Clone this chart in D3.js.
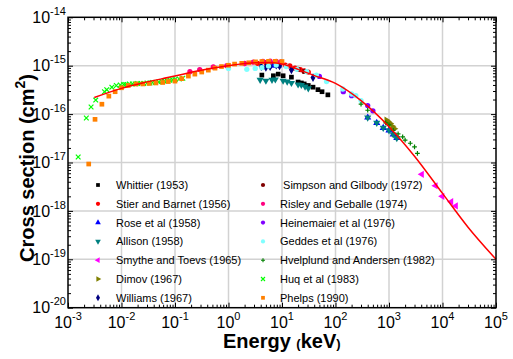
<!DOCTYPE html>
<html><head><meta charset="utf-8">
<script src="https://cdn.jsdelivr.net/npm/d3@7"></script>
<style>body{margin:0;background:#fff}svg{display:block}</style>
</head><body>
<svg id="chart" width="513" height="359"></svg>
<script>
// ---------- data (energy keV, cross section cm^2) ----------
const whittier = [[4.2,6.4e-16],[6.9,6.2e-16],[8.5,6.7e-16],[10.5,6.2e-16],[15,5.8e-16],[20,4.6e-16],[23,4.4e-16],[26,4.2e-16],[31,3.9e-16],[38,3.6e-16],[47,3.2e-16],[56,2.9e-16],[72,2.5e-16]];
const stier = [[3.5,1.12e-15],[5,1.15e-15],[7,1.13e-15],[9,1.1e-15],[11.5,1.03e-15],[14,9.9e-16],[17.5,8.9e-16],[22,8.3e-16],[26,7.8e-16],[31,7.4e-16]];
const rose = [[5.5,9.5e-16],[7,1.0e-15],[8.5,1.0e-15],[400,8.5e-17],[590,6.6e-17],[780,5.2e-17],[1000,4.6e-17],[1200,3.8e-17],[1400,3.2e-17]];
const allison = [[3.9,5.1e-16],[5,4.9e-16],[6.5,5.1e-16],[7.5,5.2e-16],[10.5,4.9e-16],[12.5,4.7e-16],[15,4.4e-16],[20,4.1e-16],[23,4.0e-16],[27,3.7e-16],[31,3.4e-16],[400,8.5e-17],[590,6.6e-17],[780,5.2e-17],[1000,4.6e-17],[1200,3.8e-17],[1400,3.2e-17]];
const smythe = [[4100,5.7e-18],[7400,3.3e-18],[9900,2.0e-18],[14500,1.55e-18],[17700,1.27e-18]];
const dimov = [[900,7.5e-17],[950,7.0e-17],[1050,6.4e-17],[1150,5.6e-17],[1250,5.0e-17]];
const williams = [[4.1,9.6e-16],[5,9.2e-16],[6,9.6e-16],[7.8,1.03e-15],[9,9.9e-16],[15,8.2e-16],[38,5.7e-16]];
const simpson = [[20,8.4e-16],[26,7.6e-16]];
const risley = [[0.19,7.5e-16],[0.29,8.3e-16],[0.52,9.4e-16],[0.93,1.0e-15],[2.0,1.11e-15],[2.9,1.18e-15],[4.4,1.23e-15],[6,1.24e-15],[7.8,1.22e-15],[9.5,1.2e-15]];
const heinemaier = [[50,6.0e-16],[140,2.9e-16],[200,2.4e-16],[400,1.5e-16],[500,1.17e-16]];
const geddes = [[1.0,8.8e-16],[2.2,8.4e-16],[3.16,8.8e-16],[4.2,9.1e-16],[5.6,9.8e-16],[7.8,1.03e-15],[12,9.6e-16],[19,8.4e-16],[29,7.5e-16],[44,6.4e-16],[68,4.7e-16],[137,3.3e-16],[200,2.6e-16],[240,2.4e-16],[300,1.9e-16]];
const hvelplund = [[300,1.6e-16],[400,1.2e-16],[870,6.6e-17],[1000,6.0e-17],[1200,4.6e-17],[1480,3.9e-17],[1800,3.4e-17],[2000,2.9e-17],[2500,2.5e-17],[3000,2.1e-17],[3400,1.55e-17]];
const huq = [[0.00155,1.3e-17],[0.0022,8.3e-17],[0.0027,1.4e-16],[0.0033,1.95e-16],[0.0048,2.9e-16],[0.0053,3.2e-16],[0.0066,3.6e-16],[0.008,3.9e-16],[0.0095,4.0e-16],[0.011,4.1e-16],[0.012,4.1e-16],[0.014,4.2e-16],[0.016,4.2e-16],[0.018,4.2e-16],[0.02,4.3e-16],[0.023,4.3e-16],[0.026,4.3e-16],[0.03,4.4e-16],[0.034,4.4e-16],[0.038,4.5e-16],[0.043,4.5e-16],[0.05,4.6e-16],[0.056,4.7e-16],[0.063,4.8e-16],[0.071,4.9e-16],[0.08,5.0e-16],[0.09,5.1e-16],[0.1,5.2e-16],[0.12,5.3e-16],[0.14,5.5e-16]];
const phelps = [[0.00244,9.3e-18],[0.0032,7.8e-17],[0.0043,1.6e-16],[0.0058,2.35e-16],[0.0076,2.9e-16],[0.01,3.5e-16],[0.0134,3.9e-16],[0.0187,4.2e-16],[0.025,4.2e-16],[0.033,4.3e-16],[0.044,4.4e-16],[0.059,4.5e-16],[0.075,4.7e-16],[0.1,4.8e-16],[0.133,5.4e-16],[0.178,6.1e-16],[0.235,6.7e-16],[0.316,7.4e-16],[0.42,8.1e-16],[0.56,8.9e-16],[0.74,9.6e-16],[1.0,1.02e-15],[1.3,1.08e-15],[1.77,1.12e-15],[2.4,1.15e-15],[3.2,1.2e-15],[4.2,1.22e-15],[5.6,1.23e-15],[7.5,1.23e-15],[10,1.22e-15]];
const fitCurve = [[0.0031,2.2e-16],[0.01,3.4e-16],[0.026,4.45e-16],[0.1,6.1e-16],[0.22,7.5e-16],[0.92,9.9e-16],[3.3,1.15e-15],[6,1.16e-15],[10,1.08e-15],[20,8.4e-16],[38,6.4e-16],[100,4.3e-16],[300,1.9e-16],[1000,5.5e-17],[3000,1.35e-17],[10000,2.3e-18],[30000,4.6e-19],[100000,1e-19]];

const seriesNames = ["Whittier (1953)","Stier and Barnet (1956)","Rose et al (1958)","Allison (1958)","Smythe and Toevs (1965)","Dimov (1967)","Williams (1967)"," Simpson and Gilbody (1972)","Risley and Geballe (1974)","Heinemaier et al (1976)","Geddes et al (1976)","Hvelplund and Andersen (1982)","Huq et al (1983)","Phelps (1990)"];
const seriesData = [whittier,stier,rose,allison,smythe,dimov,williams,simpson,risley,heinemaier,geddes,hvelplund,huq,phelps];
const xTickExps = [-3,-2,-1,0,1,2,3,4,5];
const yTickExps = [-20,-19,-18,-17,-16,-15,-14];

// ---------- styles ----------
const colors = ["#000000","#ff0000","#0000ff","#008080","#ff00ff","#808000","#000080","#800000","#ff0080","#8000ff","#80ffff","#008000","#00ff00","#ff8000"];
const xSym = {draw(c,s){const r=Math.sqrt(s)/2;c.moveTo(-r,-r);c.lineTo(r,r);c.moveTo(r,-r);c.lineTo(-r,r);}};
const plusSym = {draw(c,s){const r=Math.sqrt(s)/2;c.moveTo(-r,0);c.lineTo(r,0);c.moveTo(0,-r);c.lineTo(0,r);}};
// [type, rotation, stroked]
const shapes = [
  [d3.symbolSquare,0,false],[d3.symbolCircle,0,false],[d3.symbolTriangle,0,false],[d3.symbolTriangle,180,false],
  [d3.symbolTriangle,-90,false],[d3.symbolTriangle,90,false],[d3.symbolDiamond,0,false],[d3.symbolCircle,0,false],
  [d3.symbolCircle,0,false],[d3.symbolCircle,0,false],[d3.symbolCircle,0,false],[plusSym,0,true],[xSym,0,true],[d3.symbolSquare,0,false]];

const font = "Arial, 'Liberation Sans', sans-serif";
const L=68, R=496, T=17.3, B=307.7;
const svg = d3.select("#chart");
const x = d3.scaleLog().domain([1e-3,1e5]).range([L,R]);
const y = d3.scaleLog().domain([1e-20,1e-14]).range([B,T]);

// grid
const grid = svg.append("g").attr("stroke","#d2d2d2").attr("stroke-width",1.5);
grid.selectAll(".gx").data(xTickExps.slice(1,-1)).join("line")
  .attr("x1",d=>x(10**d)).attr("x2",d=>x(10**d)).attr("y1",T).attr("y2",B);
grid.selectAll(".gy").data(yTickExps.slice(1,-1)).join("line")
  .attr("y1",d=>y(10**d)).attr("y2",d=>y(10**d)).attr("x1",L).attr("x2",R);

// ticks
const majX = xTickExps.map(e=>10**e), majY = yTickExps.map(e=>10**e);
const minX=[], minY=[];
xTickExps.slice(0,-1).forEach(e=>{for(let k=2;k<10;k++)minX.push(k*10**e);});
yTickExps.slice(0,-1).forEach(e=>{for(let k=2;k<10;k++)minY.push(k*10**e);});
function ax(gen, vals, size, tr){
  const g = svg.append("g").attr("transform",tr).call(gen.tickValues(vals).tickSize(size).tickFormat(""));
  g.select(".domain").remove();
  g.selectAll("line").attr("stroke","#000").attr("stroke-width",1);
}
ax(d3.axisBottom(x),majX,-5,`translate(0,${B})`);
ax(d3.axisBottom(x),minX,-3,`translate(0,${B})`);
ax(d3.axisTop(x),majX,-5,`translate(0,${T})`);
ax(d3.axisTop(x),minX,-3,`translate(0,${T})`);
ax(d3.axisLeft(y),majY,-5,`translate(${L},0)`);
ax(d3.axisLeft(y),minY,-3,`translate(${L},0)`);
ax(d3.axisRight(y),majY,-5,`translate(${R},0)`);
ax(d3.axisRight(y),minY,-3,`translate(${R},0)`);

// data
const sym = d3.symbol();
seriesData.forEach((data,i)=>{
  const [type,rot,stroked]=shapes[i];
  svg.append("g").selectAll("path").data(data).join("path")
    .attr("transform",d=>`translate(${x(d[0])},${y(d[1])}) rotate(${rot})`)
    .attr("d",sym.type(type).size(stroked?22:22)())
    .attr("fill",stroked?"none":colors[i])
    .attr("stroke",stroked?colors[i]:"none").attr("stroke-width",1.2);
});

// fit line
svg.append("path").datum(fitCurve)
  .attr("d",d3.line().x(d=>x(d[0])).y(d=>y(d[1])).curve(d3.curveMonotoneX))
  .attr("fill","none").attr("stroke","#ff0000").attr("stroke-width",1.5);

// frame
svg.append("rect").attr("x",L).attr("y",T).attr("width",R-L).attr("height",B-T)
  .attr("fill","none").attr("stroke","#000").attr("stroke-width",1.5);

// tick labels
const xl = svg.append("g").attr("font-family",font).attr("fill","#000");
xl.selectAll("text").data(xTickExps).join("text")
  .attr("x",d=>x(10**d)).attr("y",328).attr("text-anchor","middle").attr("font-size",16)
  .each(function(d){const t=d3.select(this);t.append("tspan").text("10");
    t.append("tspan").attr("dy",-8).attr("font-size",11).text(d<0?"-"+(-d):d);});
const yl = svg.append("g").attr("font-family",font).attr("fill","#000");
yl.selectAll("text").data(yTickExps).join("text")
  .attr("x",66).attr("y",d=>y(10**d)+5.7).attr("text-anchor","end").attr("font-size",16)
  .each(function(d){const t=d3.select(this);t.append("tspan").text("10");
    t.append("tspan").attr("dy",-8).attr("font-size",11).text("-"+(-d));});

// axis titles
const xt = svg.append("text").attr("x",223).attr("y",348).attr("font-family",font)
  .attr("font-weight","bold").attr("font-size",20);
xt.append("tspan").text("Energy ");
xt.append("tspan").attr("font-size",13).text("(");
xt.append("tspan").text("keV");
xt.append("tspan").attr("font-size",13).text(")");
const yt = svg.append("text").attr("transform","translate(34,168) rotate(-90)").attr("text-anchor","middle")
  .attr("font-family",font).attr("font-weight","bold").attr("font-size",20);
yt.append("tspan").text("Cross section (cm");
yt.append("tspan").attr("dy",-9).attr("font-size",14).text("2");
yt.append("tspan").attr("dy",9).text(")");

// legend
const leg = svg.append("g").attr("font-family",font).attr("font-size",11);
seriesNames.forEach((name,i)=>{
  const col = i<7?0:1, row = i%7;
  const mx = col?263:98, cy = 185+row*18.8;
  const [type,rot,stroked]=shapes[i];
  leg.append("path").attr("transform",`translate(${mx},${cy}) rotate(${rot})`)
    .attr("d",sym.type(type).size(stroked?16:14)())
    .attr("fill",stroked?"none":colors[i]).attr("stroke",stroked?colors[i]:"none").attr("stroke-width",1.1);
  leg.append("text").attr("x",(col?280:116)).attr("y",cy+4).attr("xml:space","preserve").text(name);
});
</script>
</body></html>
